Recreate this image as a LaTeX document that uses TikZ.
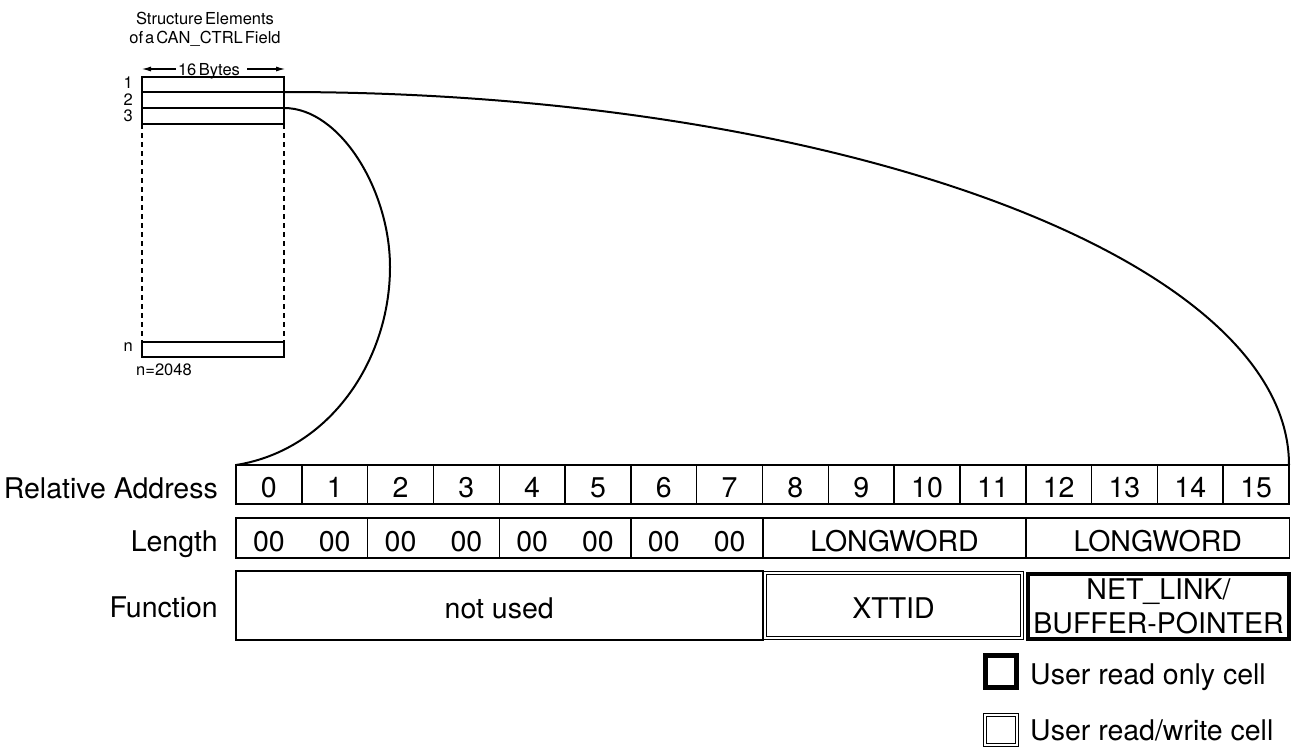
\documentclass[tikz,border=0pt]{standalone}
\usepackage{fontspec}
\setmainfont{TeX Gyre Heros}
\usetikzlibrary{arrows.meta}
\begin{document}
\begin{tikzpicture}[x=1pt,y=-1pt,
  big/.style={font=\fontsize{28.5}{34}\selectfont},
  small/.style={font=\fontsize{16.5}{19}\selectfont},
  cell/.style={draw,line width=1.5pt,outer sep=0pt,inner sep=0pt,minimum width=65.8125pt,minimum height=39pt,big,text height=26pt,text depth=0pt},
  lenbox/.style={draw,line width=1.5pt,outer sep=0pt,inner sep=0pt,minimum height=40pt,big,text height=26pt,text depth=0pt},
  lentext/.style={big,anchor=base,inner sep=0pt},
  rowlabel/.style={big,anchor=base east,inner sep=0pt},
  funcbox/.style={draw,line width=2pt,outer sep=0pt,inner sep=0pt,minimum height=69pt,big,text height=26pt,text depth=0pt},
  rwbox/.style={draw,double,line width=1.2pt,double distance=2.3pt,outer sep=0pt,inner sep=0pt,big},
  robox/.style={draw,line width=4pt,outer sep=0pt,inner sep=0pt,big},
  srow/.style={draw,line width=1.6pt,outer sep=0pt,inner sep=0pt,minimum width=142.3pt},
  snum/.style={small,anchor=east,inner sep=0pt},
  link/.style={line width=2pt},
  dashside/.style={line width=2pt,dash pattern=on 5pt off 4pt},
  dimarrow/.style={line width=1.6pt,-{Latex[length=10pt,width=5pt]}},
  legtext/.style={big,anchor=base west,inner sep=0pt}
]
\useasboundingbox (0,0) rectangle (1292,748);

% title
\node[small,anchor=base,inner sep=0pt] (t1) at (205,24) {Structure\hspace{2.5pt}Elements};
\node[small,anchor=base,inner sep=0pt] (t2) at (205,43) {of\hspace{2pt}a\hspace{2pt}CAN\_CTRL\hspace{2pt}Field};

% structure element rows
\node[srow,minimum height=15pt] (r1) at (212.85,84.5) {};
\node[srow,minimum height=16pt] (r2) at (212.85,100) {};
\node[srow,minimum height=16pt] (r3) at (212.85,116) {};
\node[srow,minimum height=15pt] (rn) at (212.85,349.5) {};
\draw[dashside] (r3.south west) -- (rn.north west);
\draw[dashside] (r3.south east) -- (rn.north east);

\node[snum] (n1) at (133,83) {1};
\node[snum] (n2) at (133,100) {2};
\node[snum] (n3) at (133,116) {3};
\node[snum] (nn) at (133,347) {n};
\node[small,anchor=west,inner sep=0pt] (nval) at (136,370) {n=2048};

% 16 bytes dimension
\node[small,anchor=base,inner sep=0pt] (bytes) at (209,75) {16\hspace{2.5pt}Bytes};
\coordinate (bl) at (141,69);
\coordinate (br) at (286,69);
\coordinate (blt) at (176,69);
\coordinate (brt) at (247,69);
\draw[dimarrow] (blt) -- (bl);
\draw[dimarrow] (brt) -- (br);

% relative address row
\foreach \i in {0,...,15}
  \node[cell] (a\i) at ({236+65.8125*(\i+0.5)},484.5) {\i};

% length row
\foreach \j in {0,...,3}
  \node[lenbox,minimum width=131.625pt] (l\j) at ({236+131.625*(\j+0.5)},538) {};
\foreach \i in {0,...,7}
  \node[lentext] (z\i) at ({236+65.8125*(\i+0.5)},551) {00};
\node[lenbox,minimum width=263.25pt] (lw1) at (894.5,538) {LONGWORD};
\node[lenbox,minimum width=263.25pt] (lw2) at (1157.75,538) {LONGWORD};

% function row
\node[funcbox,minimum width=526.5pt] (nu) at (499.25,605.5) {not used};
\node[rwbox,minimum width=257pt,minimum height=65pt,text height=26pt,text depth=0pt] (xt) at (893.5,605.5) {XTTID};
\node[robox,minimum width=261pt,minimum height=65pt,align=center,font=\fontsize{28.5}{34}\selectfont] (nl) at (1158.5,606.5) {NET\_LINK/\\BUFFER-POINTER};

% row labels
\node[rowlabel] (lab1) at (218,498) {Relative Address};
\node[rowlabel] (lab2) at (218,551) {Length};
\node[rowlabel] (lab3) at (218,617) {Function};

% connecting curves
\coordinate (loop) at (390,267);
\draw[link] (r1.south east) .. controls +(555,0) and +(0,-206) .. (a15.north east);
\draw[link] (r2.south east) .. controls +(56,0) and +(0,-77) .. (loop)
  .. controls +(0,93) and +(94,-15) .. (a0.north west);

% legend
\node[robox,line width=5pt,minimum width=31pt,minimum height=32pt] (kro) at (1001,671.5) {};
\node[legtext] (tro) at (1030,684) {User read only cell};
\node[rwbox,double distance=2pt,minimum width=32pt,minimum height=30pt] (krw) at (1001,730) {};
\node[legtext] (trw) at (1030,740) {User read/write cell};
\end{tikzpicture}
\end{document}
